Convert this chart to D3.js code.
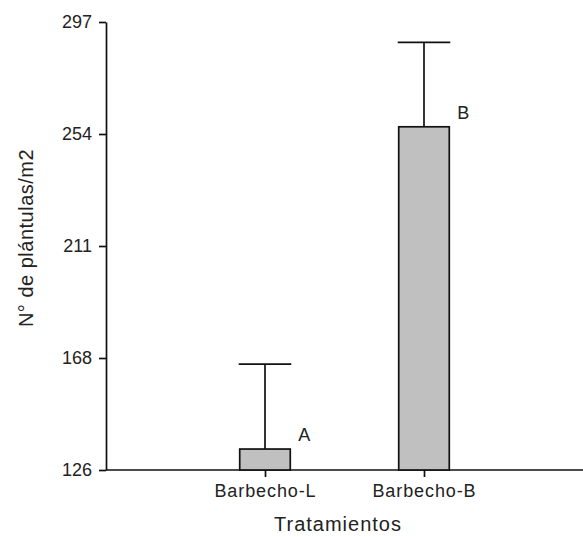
<!DOCTYPE html>
<html>
<head>
<meta charset="utf-8">
<script src="https://cdn.jsdelivr.net/npm/d3@7"></script>
<style>
  html, body { margin: 0; padding: 0; background: #fff; }
  svg { display: block; }
  text { font-family: "Liberation Sans", Arial, sans-serif; fill: #222; }
</style>
</head>
<body>
<svg id="chart" width="583" height="537"></svg>
<script>
// ---- data ----
const categories = ["Barbecho-L", "Barbecho-B"];
const means = [134, 257];
const errors = [32.4, 32.2];
const letters = ["A", "B"];
const yTickValues = [126, 168.75, 211.5, 254.25, 297];
const yTickLabels = ["126", "168", "211", "254", "297"];
const xTitle = "Tratamientos";
const yTitle = "N° de plántulas/m2";

// ---- layout ----
const svg = d3.select("#chart");
const mLeft = 106, mRight = 583, mTop = 22, mBottom = 470;

const x = d3.scalePoint().domain(categories).range([mLeft, mRight]).padding(1);
const y = d3.scaleLinear().domain([126, 297]).range([mBottom, mTop]);
const barW = x.step() * 0.318;

const stroke = "#111";
const sw = 1.7;

// y axis
const yAxis = d3.axisLeft(y).tickValues(yTickValues)
  .tickFormat((d, i) => yTickLabels[i]).tickSize(7).tickSizeOuter(0).tickPadding(7);
const gy = svg.append("g").attr("transform", `translate(${mLeft},0)`).call(yAxis);
gy.select(".domain").attr("stroke", stroke).attr("stroke-width", sw);
gy.selectAll(".tick line").attr("stroke", stroke).attr("stroke-width", sw);
gy.selectAll(".tick text").attr("font-size", 18).attr("fill", "#222")
  .attr("font-family", "Liberation Sans, Arial, sans-serif");

// x axis
const xAxis = d3.axisBottom(x).tickSize(7).tickSizeOuter(0).tickPadding(7);
const gx = svg.append("g").attr("transform", `translate(0,${mBottom})`).call(xAxis);
gx.select(".domain").attr("d", `M${mLeft},0H${mRight}`).attr("stroke", stroke).attr("stroke-width", sw);
gx.selectAll(".tick line").attr("stroke", stroke).attr("stroke-width", sw);
gx.selectAll(".tick text").attr("font-size", 18).attr("fill", "#222")
  .attr("letter-spacing", "0.9px")
  .attr("font-family", "Liberation Sans, Arial, sans-serif");

// bars
const data = categories.map((c, i) => ({ c, m: means[i], e: errors[i], l: letters[i] }));
const g = svg.append("g");

// error bars
g.selectAll(".err").data(data).join("line")
  .attr("x1", d => x(d.c)).attr("x2", d => x(d.c))
  .attr("y1", d => y(d.m)).attr("y2", d => y(d.m + d.e))
  .attr("stroke", stroke).attr("stroke-width", sw);
g.selectAll(".cap").data(data).join("line")
  .attr("x1", d => x(d.c) - barW / 2 - 1).attr("x2", d => x(d.c) + barW / 2 + 1)
  .attr("y1", d => y(d.m + d.e)).attr("y2", d => y(d.m + d.e))
  .attr("stroke", stroke).attr("stroke-width", sw);

g.selectAll(".bar").data(data).join("rect")
  .attr("x", d => x(d.c) - barW / 2).attr("width", barW)
  .attr("y", d => y(d.m)).attr("height", d => mBottom - y(d.m))
  .attr("fill", "#c0c0c0").attr("stroke", stroke).attr("stroke-width", sw);

// letters
g.selectAll(".lbl").data(data).join("text")
  .attr("x", d => x(d.c) + barW / 2 + 8)
  .attr("y", d => y(d.m) - 8)
  .attr("font-size", 18)
  .text(d => d.l);

// titles
svg.append("text").attr("x", 338).attr("y", 531)
  .attr("text-anchor", "middle").attr("font-size", 20).attr("letter-spacing", "1px")
  .text(xTitle);
svg.append("text").attr("transform", `translate(33,238) rotate(-90)`)
  .attr("text-anchor", "middle").attr("font-size", 20).attr("letter-spacing", "0.5px")
  .text(yTitle);
</script>
</body>
</html>
